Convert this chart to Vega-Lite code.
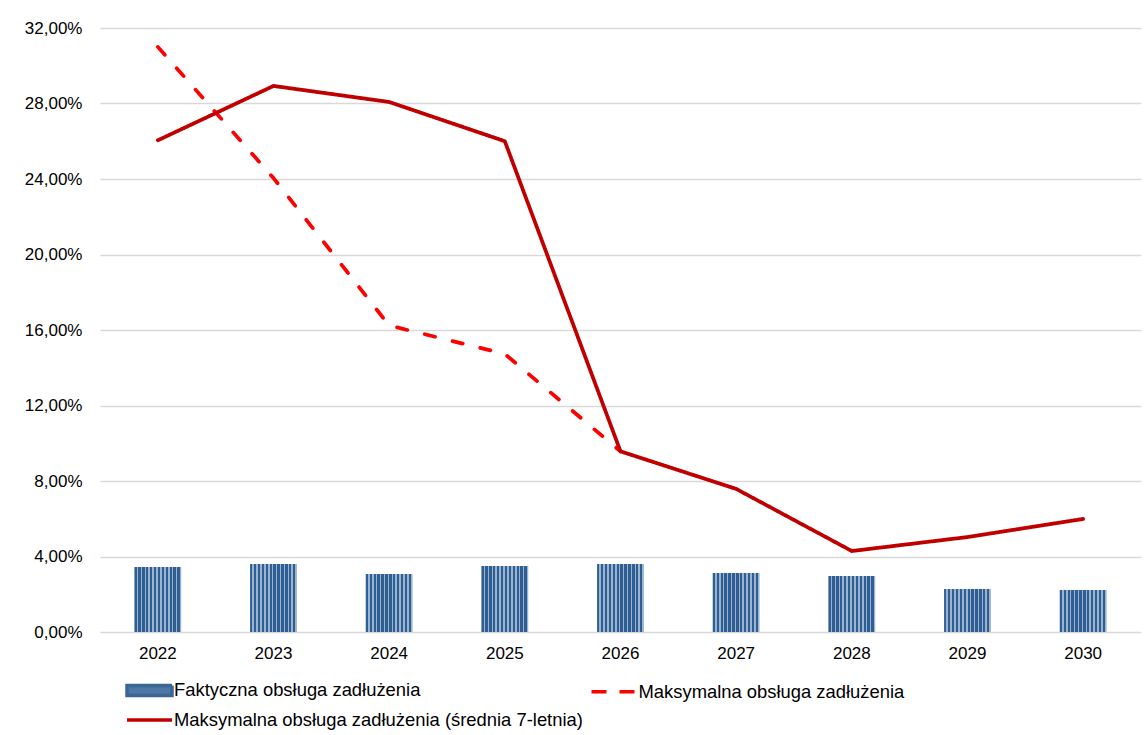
{
  "$schema": "https://vega.github.io/schema/vega-lite/v6.json",
  "width": 1041,
  "height": 604,
  "autosize": {"type": "none"},
  "padding": {"left": 100, "top": 28, "right": 4, "bottom": 103},
  "background": "white",
  "config": {
    "locale": {"number": {"decimal": ",", "thousands": " ", "grouping": [3], "currency": ["", " zł"]}},
    "view": {"stroke": null},
    "font": "Liberation Sans"
  },
  "data": {
    "values": [
      {"year": "2022", "series": "Faktyczna obsługa zadłużenia", "value": 0.0344},
      {"year": "2023", "series": "Faktyczna obsługa zadłużenia", "value": 0.036},
      {"year": "2024", "series": "Faktyczna obsługa zadłużenia", "value": 0.0307},
      {"year": "2025", "series": "Faktyczna obsługa zadłużenia", "value": 0.035},
      {"year": "2026", "series": "Faktyczna obsługa zadłużenia", "value": 0.036},
      {"year": "2027", "series": "Faktyczna obsługa zadłużenia", "value": 0.0313},
      {"year": "2028", "series": "Faktyczna obsługa zadłużenia", "value": 0.0297},
      {"year": "2029", "series": "Faktyczna obsługa zadłużenia", "value": 0.0228},
      {"year": "2030", "series": "Faktyczna obsługa zadłużenia", "value": 0.0222},
      {"year": "2022", "series": "Maksymalna obsługa zadłużenia", "value": 0.31},
      {"year": "2023", "series": "Maksymalna obsługa zadłużenia", "value": 0.2405},
      {"year": "2024", "series": "Maksymalna obsługa zadłużenia", "value": 0.1624},
      {"year": "2025", "series": "Maksymalna obsługa zadłużenia", "value": 0.1473},
      {"year": "2026", "series": "Maksymalna obsługa zadłużenia", "value": 0.0957},
      {"year": "2022", "series": "Maksymalna obsługa zadłużenia (średnia 7-letnia)", "value": 0.2605},
      {"year": "2023", "series": "Maksymalna obsługa zadłużenia (średnia 7-letnia)", "value": 0.2893},
      {"year": "2024", "series": "Maksymalna obsługa zadłużenia (średnia 7-letnia)", "value": 0.2808},
      {"year": "2025", "series": "Maksymalna obsługa zadłużenia (średnia 7-letnia)", "value": 0.26},
      {"year": "2026", "series": "Maksymalna obsługa zadłużenia (średnia 7-letnia)", "value": 0.0957},
      {"year": "2027", "series": "Maksymalna obsługa zadłużenia (średnia 7-letnia)", "value": 0.0758},
      {"year": "2028", "series": "Maksymalna obsługa zadłużenia (średnia 7-letnia)", "value": 0.0429},
      {"year": "2029", "series": "Maksymalna obsługa zadłużenia (średnia 7-letnia)", "value": 0.0503},
      {"year": "2030", "series": "Maksymalna obsługa zadłużenia (średnia 7-letnia)", "value": 0.0599}
    ]
  },
  "encoding": {
    "x": {
      "field": "year",
      "type": "ordinal",
      "scale": {"paddingInner": 0.595, "paddingOuter": 0.2975},
      "axis": {
        "title": null,
        "labelAngle": 0,
        "domain": false,
        "ticks": false,
        "tickSize": 0,
        "labelPadding": 13,
        "labelFontSize": 17,
        "labelColor": "#000000",
        "labelFont": "Liberation Sans"
      }
    },
    "y": {
      "field": "value",
      "type": "quantitative",
      "scale": {"domain": [0, 0.32], "nice": false},
      "axis": {
        "title": null,
        "values": [0, 0.04, 0.08, 0.12, 0.16, 0.2, 0.24, 0.28, 0.32],
        "format": ".2%",
        "domain": false,
        "ticks": false,
        "tickSize": 0,
        "labelPadding": 18,
        "labelFontSize": 17,
        "labelColor": "#000000",
        "labelFont": "Liberation Sans",
        "grid": true,
        "gridColor": "#d9d9d9",
        "gridWidth": 1.5
      }
    }
  },
  "layer": [
    {
      "transform": [{"filter": "datum.series === 'Faktyczna obsługa zadłużenia'"}],
      "mark": {
        "type": "bar",
        "fill": {
          "gradient": "linear", "x1": 0, "x2": 1, "y1": 0, "y2": 0,
          "stops": [
            {"offset": 0, "color": "#2f5e92"}, {"offset": 0.05, "color": "#2f5e92"}, {"offset": 0.05, "color": "#9ab3d0"}, {"offset": 0.0833, "color": "#9ab3d0"},
            {"offset": 0.0833, "color": "#2f5e92"}, {"offset": 0.1333, "color": "#2f5e92"}, {"offset": 0.1333, "color": "#9ab3d0"}, {"offset": 0.1667, "color": "#9ab3d0"},
            {"offset": 0.1667, "color": "#2f5e92"}, {"offset": 0.2167, "color": "#2f5e92"}, {"offset": 0.2167, "color": "#9ab3d0"}, {"offset": 0.25, "color": "#9ab3d0"},
            {"offset": 0.25, "color": "#2f5e92"}, {"offset": 0.3, "color": "#2f5e92"}, {"offset": 0.3, "color": "#9ab3d0"}, {"offset": 0.3333, "color": "#9ab3d0"},
            {"offset": 0.3333, "color": "#2f5e92"}, {"offset": 0.3833, "color": "#2f5e92"}, {"offset": 0.3833, "color": "#9ab3d0"}, {"offset": 0.4167, "color": "#9ab3d0"},
            {"offset": 0.4167, "color": "#2f5e92"}, {"offset": 0.4667, "color": "#2f5e92"}, {"offset": 0.4667, "color": "#9ab3d0"}, {"offset": 0.5, "color": "#9ab3d0"},
            {"offset": 0.5, "color": "#2f5e92"}, {"offset": 0.55, "color": "#2f5e92"}, {"offset": 0.55, "color": "#9ab3d0"}, {"offset": 0.5833, "color": "#9ab3d0"},
            {"offset": 0.5833, "color": "#2f5e92"}, {"offset": 0.6333, "color": "#2f5e92"}, {"offset": 0.6333, "color": "#9ab3d0"}, {"offset": 0.6667, "color": "#9ab3d0"},
            {"offset": 0.6667, "color": "#2f5e92"}, {"offset": 0.7167, "color": "#2f5e92"}, {"offset": 0.7167, "color": "#9ab3d0"}, {"offset": 0.75, "color": "#9ab3d0"},
            {"offset": 0.75, "color": "#2f5e92"}, {"offset": 0.8, "color": "#2f5e92"}, {"offset": 0.8, "color": "#9ab3d0"}, {"offset": 0.8333, "color": "#9ab3d0"},
            {"offset": 0.8333, "color": "#2f5e92"}, {"offset": 0.8833, "color": "#2f5e92"}, {"offset": 0.8833, "color": "#9ab3d0"}, {"offset": 0.9167, "color": "#9ab3d0"},
            {"offset": 0.9167, "color": "#2f5e92"}, {"offset": 0.9667, "color": "#2f5e92"}, {"offset": 0.9667, "color": "#9ab3d0"}, {"offset": 1, "color": "#9ab3d0"}
          ]
        }
      }
    },
    {
      "transform": [{"filter": "datum.series !== 'Faktyczna obsługa zadłużenia'"}],
      "mark": {"type": "line", "strokeWidth": 3.75, "strokeCap": "round", "strokeJoin": "round"},
      "encoding": {
        "color": {
          "field": "series",
          "type": "nominal",
          "scale": {
            "domain": ["Faktyczna obsługa zadłużenia", "Maksymalna obsługa zadłużenia (średnia 7-letnia)", "Maksymalna obsługa zadłużenia"],
            "range": ["#3a6696", "#c00000", "#ff0000"]
          },
          "legend": {
            "title": null,
            "orient": "none",
            "legendX": 35.5,
            "legendY": 648,
            "columns": 2,
            "columnPadding": 0.5,
            "rowPadding": 3,
            "padding": 0,
            "symbolSize": 576,
            "symbolStrokeWidth": 3.5,
            "symbolType": "M-1.875,0H1.875",
            "labelFontSize": 18.4,
            "labelFont": "Liberation Sans",
            "labelColor": "#000000",
            "labelLimit": 600,
            "labelOffset": 10.5,
            "encode": {
              "symbols": {
                "update": {
                  "shape": [
                    {"test": "datum.value === 'Faktyczna obsługa zadłużenia'", "value": "M-1.875,-0.42H1.875V0.42H-1.875Z"},
                    {"value": "M-1.875,0H1.875"}
                  ],
                  "fill": [
                    {"test": "datum.value === 'Faktyczna obsługa zadłużenia'", "value": "#4f77a5"},
                    {"value": "transparent"}
                  ],
                  "stroke": [
                    {"test": "datum.value === 'Faktyczna obsługa zadłużenia'", "value": "transparent"},
                    {"scale": "color", "field": "value"}
                  ],
                  "strokeDash": [
                    {"test": "datum.value === 'Maksymalna obsługa zadłużenia'", "value": [15, 13]},
                    {"value": [1, 0]}
                  ]
                }
              }
            }
          }
        },
        "strokeDash": {
          "field": "series",
          "type": "nominal",
          "scale": {
            "domain": ["Maksymalna obsługa zadłużenia", "Maksymalna obsługa zadłużenia (średnia 7-letnia)"],
            "range": [[10.5, 18], [1, 0]]
          },
          "legend": null
        }
      }
    }
  ]
}
